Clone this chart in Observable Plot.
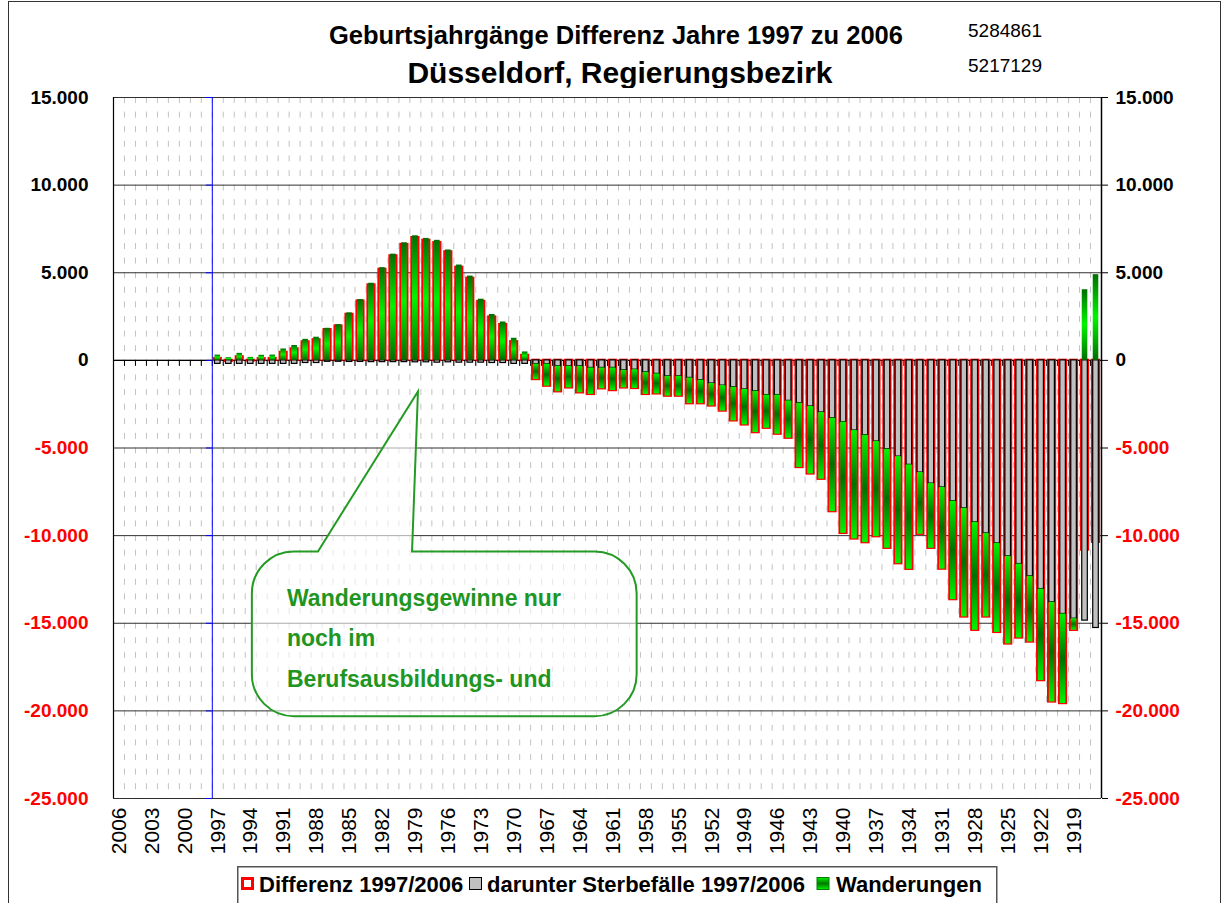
<!DOCTYPE html>
<html>
<head>
<meta charset="utf-8">
<script src="https://cdn.jsdelivr.net/npm/d3@7"></script>
<script src="https://cdn.jsdelivr.net/npm/@observablehq/plot@0.6"></script>
<style>
  body { margin: 0; background: #fff; font-family: "Liberation Sans", Arial, sans-serif; }
  #wrap { position: relative; width: 1224px; height: 903px; overflow: hidden; background: #fff; }
  #frame { position: absolute; left: 8px; top: 1px; width: 1213px; height: 1000px; border: 1.5px solid #333; box-sizing: border-box; }
  #head { position: absolute; left: 0; top: 0; }
  #chart { position: absolute; left: 0; top: 88px; }
  #legend { position: absolute; left: 237px; top: 866px; }
</style>
</head>
<body>
<div id="wrap">
  <div id="frame"></div>
  <svg id="head" width="1224" height="88" font-family="'Liberation Sans', Arial, sans-serif">
    <text x="616" y="44" text-anchor="middle" font-size="25.5" font-weight="bold">Geburtsjahrgänge Differenz Jahre 1997 zu 2006</text>
    <text x="620" y="83" text-anchor="middle" font-size="30" font-weight="bold">Düsseldorf, Regierungsbezirk</text>
    <text x="968" y="37" font-size="19">5284861</text>
    <text x="968" y="72" font-size="19">5217129</text>
  </svg>
  <div id="chart"></div>
  <svg id="legend" width="770" height="50" font-family="'Liberation Sans', Arial, sans-serif">
    <defs>
      <linearGradient id="lgGreen" x1="0" y1="0" x2="0" y2="1">
        <stop offset="0" stop-color="#00f000"/><stop offset="0.5" stop-color="#007a00"/><stop offset="1" stop-color="#00f000"/>
      </linearGradient>
    </defs>
    <rect x="0.75" y="0.75" width="759" height="60" fill="#fff" stroke="#555" stroke-width="1.5"/>
    <rect x="5.5" y="12.5" width="10" height="10" fill="#fff" stroke="#ff0000" stroke-width="3"/>
    <text x="22" y="26" font-size="22" font-weight="bold">Differenz 1997/2006</text>
    <rect x="232.5" y="11.5" width="12" height="12" fill="#c0c0c0" stroke="#000" stroke-width="1"/>
    <text x="250" y="26" font-size="22" font-weight="bold">darunter Sterbefälle 1997/2006</text>
    <rect x="580" y="11.5" width="12" height="12" fill="url(#lgGreen)" stroke="#008000" stroke-width="1"/>
    <text x="599" y="26" font-size="22" font-weight="bold">Wanderungen</text>
  </svg>
</div>
<script>
// ---- categories (birth years) ----
const years = [];
for (let y = 2006; y >= 1917; y--) years.push(y);
const barYears = [];
for (let y = 1997; y >= 1917; y--) barYears.push(y);
const tickYears = [2006,2003,2000,1997,1994,1991,1988,1985,1982,1979,1976,1973,1970,1967,1964,1961,1958,1955,1952,1949,1946,1943,1940,1937,1934,1931,1928,1925,1922,1919];
const yTicks = [15000,10000,5000,0,-5000,-10000,-15000,-20000,-25000];

// ---- series (1997 ... 1917) ----
const differenz = [
  100, -50, 200, -30, 90, 100, 450, 650, 1050, 1170,
  1750, 1960, 2620, 3380, 4300, 5190, 5960, 6610, 7000, 6850,
  6720, 6190, 5310, 4680, 3360, 2470, 2040, 1060, 280, -1090,
  -1470, -1790, -1570, -1850, -1940, -1620, -1720, -1570, -1600, -1940,
  -1910, -2040, -2040, -2470, -2470, -2600, -2890, -3450, -3680, -4120,
  -3870, -4210, -4440, -6110, -6480, -6780, -8630, -9870, -10190, -10400,
  -10060, -10720, -11600, -11920, -9920, -10720, -11910, -13650, -14640, -15400,
  -14640, -15520, -16180, -15840, -16070, -18270, -19490, -19580, -15400, -10820,
  -10380
];
const sterbefaelle = [
  -200, -200, -200, -200, -200, -200, -200, -200, -150, -150,
  -80, -80, -90, -90, -100, -100, -100, -100, -110, -110,
  -130, -110, -130, -130, -130, -150, -150, -200, -200, -210,
  -210, -340, -340, -340, -430, -430, -430, -570, -530, -680,
  -770, -910, -910, -1000, -1130, -1320, -1440, -1530, -1660, -1760,
  -1980, -1980, -2310, -2440, -2630, -2970, -3300, -3520, -4000, -4270,
  -4630, -5070, -5490, -5960, -6400, -7030, -7250, -8040, -8440, -9240,
  -9870, -10440, -11180, -11620, -12320, -13050, -13800, -14470, -14740, -14850,
  -15270
];
const wanderungen = [
  300, 150, 400, 170, 290, 300, 650, 850, 1200, 1320,
  1830, 2040, 2710, 3470, 4400, 5290, 6060, 6710, 7110, 6960,
  6850, 6300, 5440, 4810, 3490, 2620, 2190, 1260, 480, -880,
  -1260, -1450, -1230, -1510, -1510, -1190, -1290, -1000, -1070, -1260,
  -1140, -1130, -1130, -1470, -1340, -1280, -1450, -1920, -2020, -2360,
  -1890, -2230, -2130, -3670, -3850, -3810, -5330, -6350, -6190, -6130,
  -5430, -5650, -6110, -5960, -3520, -3690, -4660, -5610, -6200, -6160,
  -4770, -5080, -5000, -4220, -3750, -5220, -5690, -5110, -660, 4030,
  4890
];

const rows = barYears.map((yr, i) => ({year: yr, d: differenz[i], s: sterbefaelle[i], w: wanderungen[i]}));
const posRows = rows.filter(r => r.w >= 0);
const negRows = rows.filter(r => r.w < 0);
const boundaries = years.slice(1);

const fmt = d3.formatLocale({decimal: ",", thousands: ".", grouping: [3], currency: ["", "€"], minus: "-"}).format(",");

const W = 1224, H = 777, ML = 113, MR = 123, MT = 9, MB = 67;
const step = (W - ML - MR) / years.length;
const font = '"Liberation Sans", Arial, sans-serif';

const plot = Plot.plot({
  width: W, height: H,
  marginLeft: ML, marginRight: MR, marginTop: MT, marginBottom: MB,
  style: {fontFamily: font, background: "transparent", overflow: "visible", color: "#000"},
  x: {type: "band", domain: years, padding: 0, label: null},
  y: {domain: [-25000, 15000], label: null},
  marks: [
    Plot.ruleX(boundaries, {x: d => d, dx: -step / 2, stroke: "#c2c2c2", strokeWidth: 1, strokeDasharray: "6,8.6"}),
    Plot.ruleY(yTicks, {y: d => d, stroke: "#303030", strokeWidth: 1}),
    Plot.ruleY([0], {y: d => d, stroke: "#000", strokeWidth: 1.4}),
    Plot.ruleX(boundaries, {x: d => d, dx: -step / 2, y1: 0, y2: 0, insetBottom: -6, stroke: "#000", strokeWidth: 1}),
    Plot.ruleX([1997], {x: d => d, dx: -step / 2, stroke: "#0000ff", strokeWidth: 1}),
    Plot.tickY(yTicks, {x: () => 1998, y: d => d, insetLeft: 5, stroke: "#0000ff", strokeWidth: 1}),
    Plot.ruleX([2006], {x: d => d, dx: -step / 2, stroke: "#000", strokeWidth: 1.2}),
    Plot.ruleX([1917], {x: d => d, dx: step / 2, stroke: "#000", strokeWidth: 1.5}),
    // Differenz (red outline)
    Plot.barY(rows, {x: "year", y: "d", insetLeft: 2.1, insetRight: 2.1, fill: "none", stroke: "#ff0000", strokeWidth: 2.4}),
    // Sterbefälle (grey)
    Plot.barY(rows, {x: "year", y: "s", insetLeft: 2.7, insetRight: 2.7, fill: "#c0c0c0", stroke: "#000", strokeWidth: 1.2}),
    // Wanderungen (green, stacked below Sterbefälle when negative)
    Plot.barY(negRows, {x: "year", y1: r => r.s, y2: r => r.s + r.w, insetLeft: 2.7, insetRight: 2.7, fill: "url(#gNeg)"}),
    Plot.barY(posRows, {x: "year", y1: () => 0, y2: r => r.w, insetLeft: 2.7, insetRight: 2.7, fill: "url(#gPos)"}),
    // axes
    Plot.axisY(yTicks.filter(v => v >= 0), {anchor: "left", tickSize: 0, tickPadding: 25, tickFormat: fmt, fontSize: 19, fontWeight: "bold", fill: "#000", label: null}),
    Plot.axisY(yTicks.filter(v => v < 0), {anchor: "left", tickSize: 0, tickPadding: 25, tickFormat: fmt, fontSize: 19, fontWeight: "bold", fill: "#ff0000", label: null}),
    Plot.axisY(yTicks.filter(v => v >= 0), {anchor: "right", tickSize: 6, tickPadding: 8, tickFormat: fmt, fontSize: 19, fontWeight: "bold", fill: "#000", stroke: "#000", label: null}),
    Plot.axisY(yTicks.filter(v => v < 0), {anchor: "right", tickSize: 6, tickPadding: 8, tickFormat: fmt, fontSize: 19, fontWeight: "bold", fill: "#ff0000", stroke: "#000", label: null}),
    Plot.axisX(tickYears, {anchor: "bottom", tickSize: 0, tickPadding: 9, tickRotate: -90, tickFormat: d => String(d), fontSize: 21, fill: "#000", label: null})
  ]
});

const svg = d3.select(plot);
const defs = svg.insert("defs", ":first-child");
const gPos = defs.append("linearGradient").attr("id", "gPos").attr("x1", 0).attr("y1", 0).attr("x2", 0).attr("y2", 1);
gPos.append("stop").attr("offset", 0).attr("stop-color", "#006e00");
gPos.append("stop").attr("offset", 0.5).attr("stop-color", "#00f500");
gPos.append("stop").attr("offset", 1).attr("stop-color", "#006e00");
const gNeg = defs.append("linearGradient").attr("id", "gNeg").attr("x1", 0).attr("y1", 0).attr("x2", 0).attr("y2", 1);
gNeg.append("stop").attr("offset", 0).attr("stop-color", "#00f500");
gNeg.append("stop").attr("offset", 0.5).attr("stop-color", "#007000");
gNeg.append("stop").attr("offset", 1).attr("stop-color", "#00f500");

// ---- callout annotation, anchored in data coordinates ----
const xs = plot.scale("x"), ys = plot.scale("y");
const px = yf => xs.apply(2006) + (2006 - yf) * step;   // fractional year -> pixel
const py = v => ys.apply(v);
const L = px(1993.35), R = px(1958.3), T = py(-10930), B = py(-20330);
const a = px(1987.33), b = px(1978.76), tx = px(1978.22), ty = py(-1800);
const r = 42;
const path = `M${L + r},${T} L${a},${T} L${tx},${ty} L${b},${T} L${R - r},${T} A${r},${r} 0 0 1 ${R},${T + r} L${R},${B - r} A${r},${r} 0 0 1 ${R - r},${B} L${L + r},${B} A${r},${r} 0 0 1 ${L},${B - r} L${L},${T + r} A${r},${r} 0 0 1 ${L + r},${T} Z`;
const callout = svg.append("g");
callout.append("path").attr("d", path).attr("fill", "#fff").attr("fill-opacity", 0.6).attr("stroke", "#249b24").attr("stroke-width", 2);
const lines = ["Wanderungsgewinne nur", "noch im", "Berufsausbildungs- und"];
const lineVals = [-14070, -16350, -18690];
lines.forEach((t, i) => {
  callout.append("text").attr("x", px(1990.15)).attr("y", py(lineVals[i]))
    .attr("text-anchor", "start")
    .attr("font-size", 23).attr("font-weight", "bold").attr("fill", "#1f961f")
    .attr("font-family", font).text(t);
});

document.getElementById("chart").appendChild(plot);
</script>
</body>
</html>
